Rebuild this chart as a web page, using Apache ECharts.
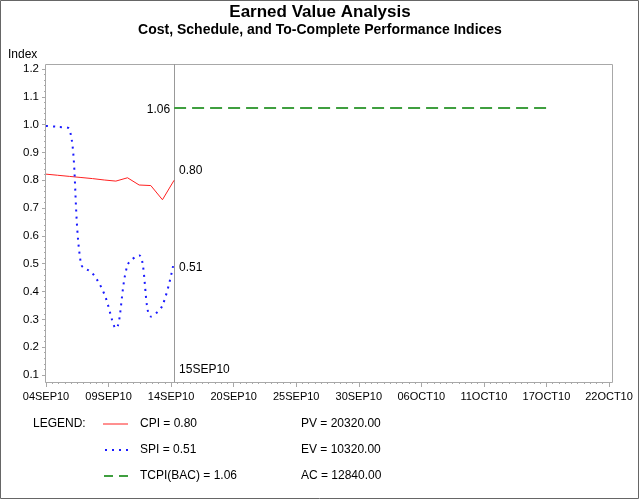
<!DOCTYPE html>
<html><head><meta charset="utf-8">
<script src="https://cdn.jsdelivr.net/npm/echarts@6/dist/echarts.min.js"></script>
<style>html,body{margin:0;padding:0;background:#fff}#c{width:640px;height:500px}</style>
</head><body><div id="c"></div>
<script>
// ---- data ----
const dayOffsets = [0,1,2,3,4,5,6,7,8,9,10,11];          // days since 04SEP10
const cpi = [0.822,0.818,0.814,0.810,0.806,0.801,0.797,0.809,0.783,0.781,0.730,0.800];
const spi = [0.995,0.992,0.985,0.500,0.465,0.392,0.268,0.495,0.530,0.310,0.350,0.510];
const tcpiValue = 1.06;
const statusDay = 11, statusLabel = '15SEP10';
const finishDay = 43;
const xTickLabels = ['04SEP10','09SEP10','14SEP10','20SEP10','25SEP10','30SEP10','06OCT10','11OCT10','17OCT10','22OCT10'];
const legendLabels = ['CPI = 0.80','SPI = 0.51','TCPI(BAC) = 1.06'];
const summaryLabels = ['PV = 20320.00','EV = 10320.00','AC = 12840.00'];

// ---- chart ----
const FONT = 'Liberation Sans, Arial, sans-serif';
const tickStep = 5.3722;
const xMax = tickStep * (xTickLabels.length - 1);
const RED = '#ff2020', BLUE = '#1a1aff', GREEN = '#3f9f3f';
const chart = echarts.init(document.getElementById('c'), null, {renderer:'canvas'});
const cpiData = dayOffsets.map((d,i)=>[d,cpi[i]]);
const spiData = dayOffsets.map((d,i)=>[d,spi[i]]);
const tcpiData = [[statusDay,tcpiValue],[finishDay,tcpiValue]];

chart.setOption({
  animation:false,
  title:[
    {text:'Earned Value Analysis', left:'center', top:-1, textStyle:{fontFamily:FONT,fontSize:17,fontWeight:'bold',color:'#000'}},
    {text:'Cost, Schedule, and To-Complete Performance Indices', left:'center', top:18, textStyle:{fontFamily:FONT,fontSize:14,fontWeight:'bold',color:'#000'}}
  ],
  grid:{left:46, right:31, top:69, bottom:125},
  xAxis:{type:'value', min:0, max:xMax, interval:tickStep, offset:7,
    axisLine:{show:true, lineStyle:{color:'#a8a8a8'}},
    axisTick:{show:true, length:5, lineStyle:{color:'#a8a8a8'}},
    minorTick:{show:true, splitNumber:10, length:2, lineStyle:{color:'#a8a8a8'}},
    splitLine:{show:false},
    axisLabel:{fontFamily:FONT, fontSize:11, color:'#000', margin:9,
      formatter:(v)=>xTickLabels[Math.round(v/tickStep)]||''}
  },
  yAxis:{type:'value', min:0.1, max:1.2, interval:0.1, offset:1,
    axisLine:{show:false},
    axisTick:{show:true, length:4, lineStyle:{color:'#a8a8a8'}},
    minorTick:{show:true, splitNumber:5, length:2, lineStyle:{color:'#a8a8a8'}},
    splitLine:{show:false},
    axisLabel:{fontFamily:FONT, fontSize:11.5, color:'#000', margin:6, formatter:(v)=>v.toFixed(1)}
  },
  series:[
    {type:'line', data:cpiData, symbol:'none', clip:false, lineStyle:{color:RED,width:1}},
    {type:'line', data:spiData, symbol:'none', smooth:0.35, clip:false, lineStyle:{color:BLUE,width:2,type:[2,5]}},
    {type:'line', data:tcpiData, symbol:'none', clip:false, lineStyle:{color:GREEN,width:2,type:[12,6]}}
  ]
});

function px(p){ return chart.convertToPixel({gridIndex:0}, p); }
const tl = px([0,1.2]), br = px([xMax,0.1]);
const frameL = tl[0]-1, frameR = br[0]+3, frameT = tl[1]-5, frameB = br[1]+7;
const pCpi = px([statusDay, cpi[cpi.length-1]]);
const pSpi = px([statusDay, spi[spi.length-1]]);
const pT = px([statusDay, tcpiValue]);
const txt = (x,y,t,align)=>({type:'text', x:x, y:y, silent:true,
  style:{text:t, fontFamily:FONT, fontSize:12, fill:'#000', align:align||'left', verticalAlign:'middle'}});
const lx = 103, rows = [424,450,476];
const vx = Math.round(pT[0]) + 0.5;
const g = [
  {type:'rect', shape:{x:0.5,y:0.5,width:638,height:498}, style:{fill:null, stroke:'#666', lineWidth:1}, silent:true},
  {type:'rect', shape:{x:frameL+0.5,y:frameT+0.5,width:frameR-frameL,height:frameB-frameT}, style:{fill:null, stroke:'#a8a8a8', lineWidth:1}, silent:true, z:-1},
  {type:'line', shape:{x1:vx,y1:frameT,x2:vx,y2:frameB}, style:{stroke:'#999',lineWidth:1}, silent:true, z:-1},
  txt(8, 55, 'Index'),
  txt(pCpi[0]+5, pCpi[1]-10, cpi[cpi.length-1].toFixed(2)),
  txt(pSpi[0]+5, pSpi[1]+7, spi[spi.length-1].toFixed(2)),
  txt(pT[0]-4, pT[1]+2, tcpiValue.toFixed(2), 'right'),
  txt(pT[0]+5, frameB-12, statusLabel),
  txt(33, rows[0], 'LEGEND:'),
  {type:'line', shape:{x1:lx,y1:rows[0],x2:lx+25,y2:rows[0]}, style:{stroke:RED,lineWidth:1}},
  {type:'line', shape:{x1:lx+2,y1:rows[1],x2:lx+26,y2:rows[1]}, style:{stroke:BLUE,lineWidth:2,lineDash:[2,5]}},
  {type:'line', shape:{x1:lx+1,y1:rows[2],x2:lx+25,y2:rows[2]}, style:{stroke:GREEN,lineWidth:2,lineDash:[9,6]}}
];
legendLabels.forEach((t,i)=>g.push(txt(140, rows[i], t)));
summaryLabels.forEach((t,i)=>g.push(txt(301, rows[i], t)));
chart.setOption({graphic:g});
</script></body></html>
